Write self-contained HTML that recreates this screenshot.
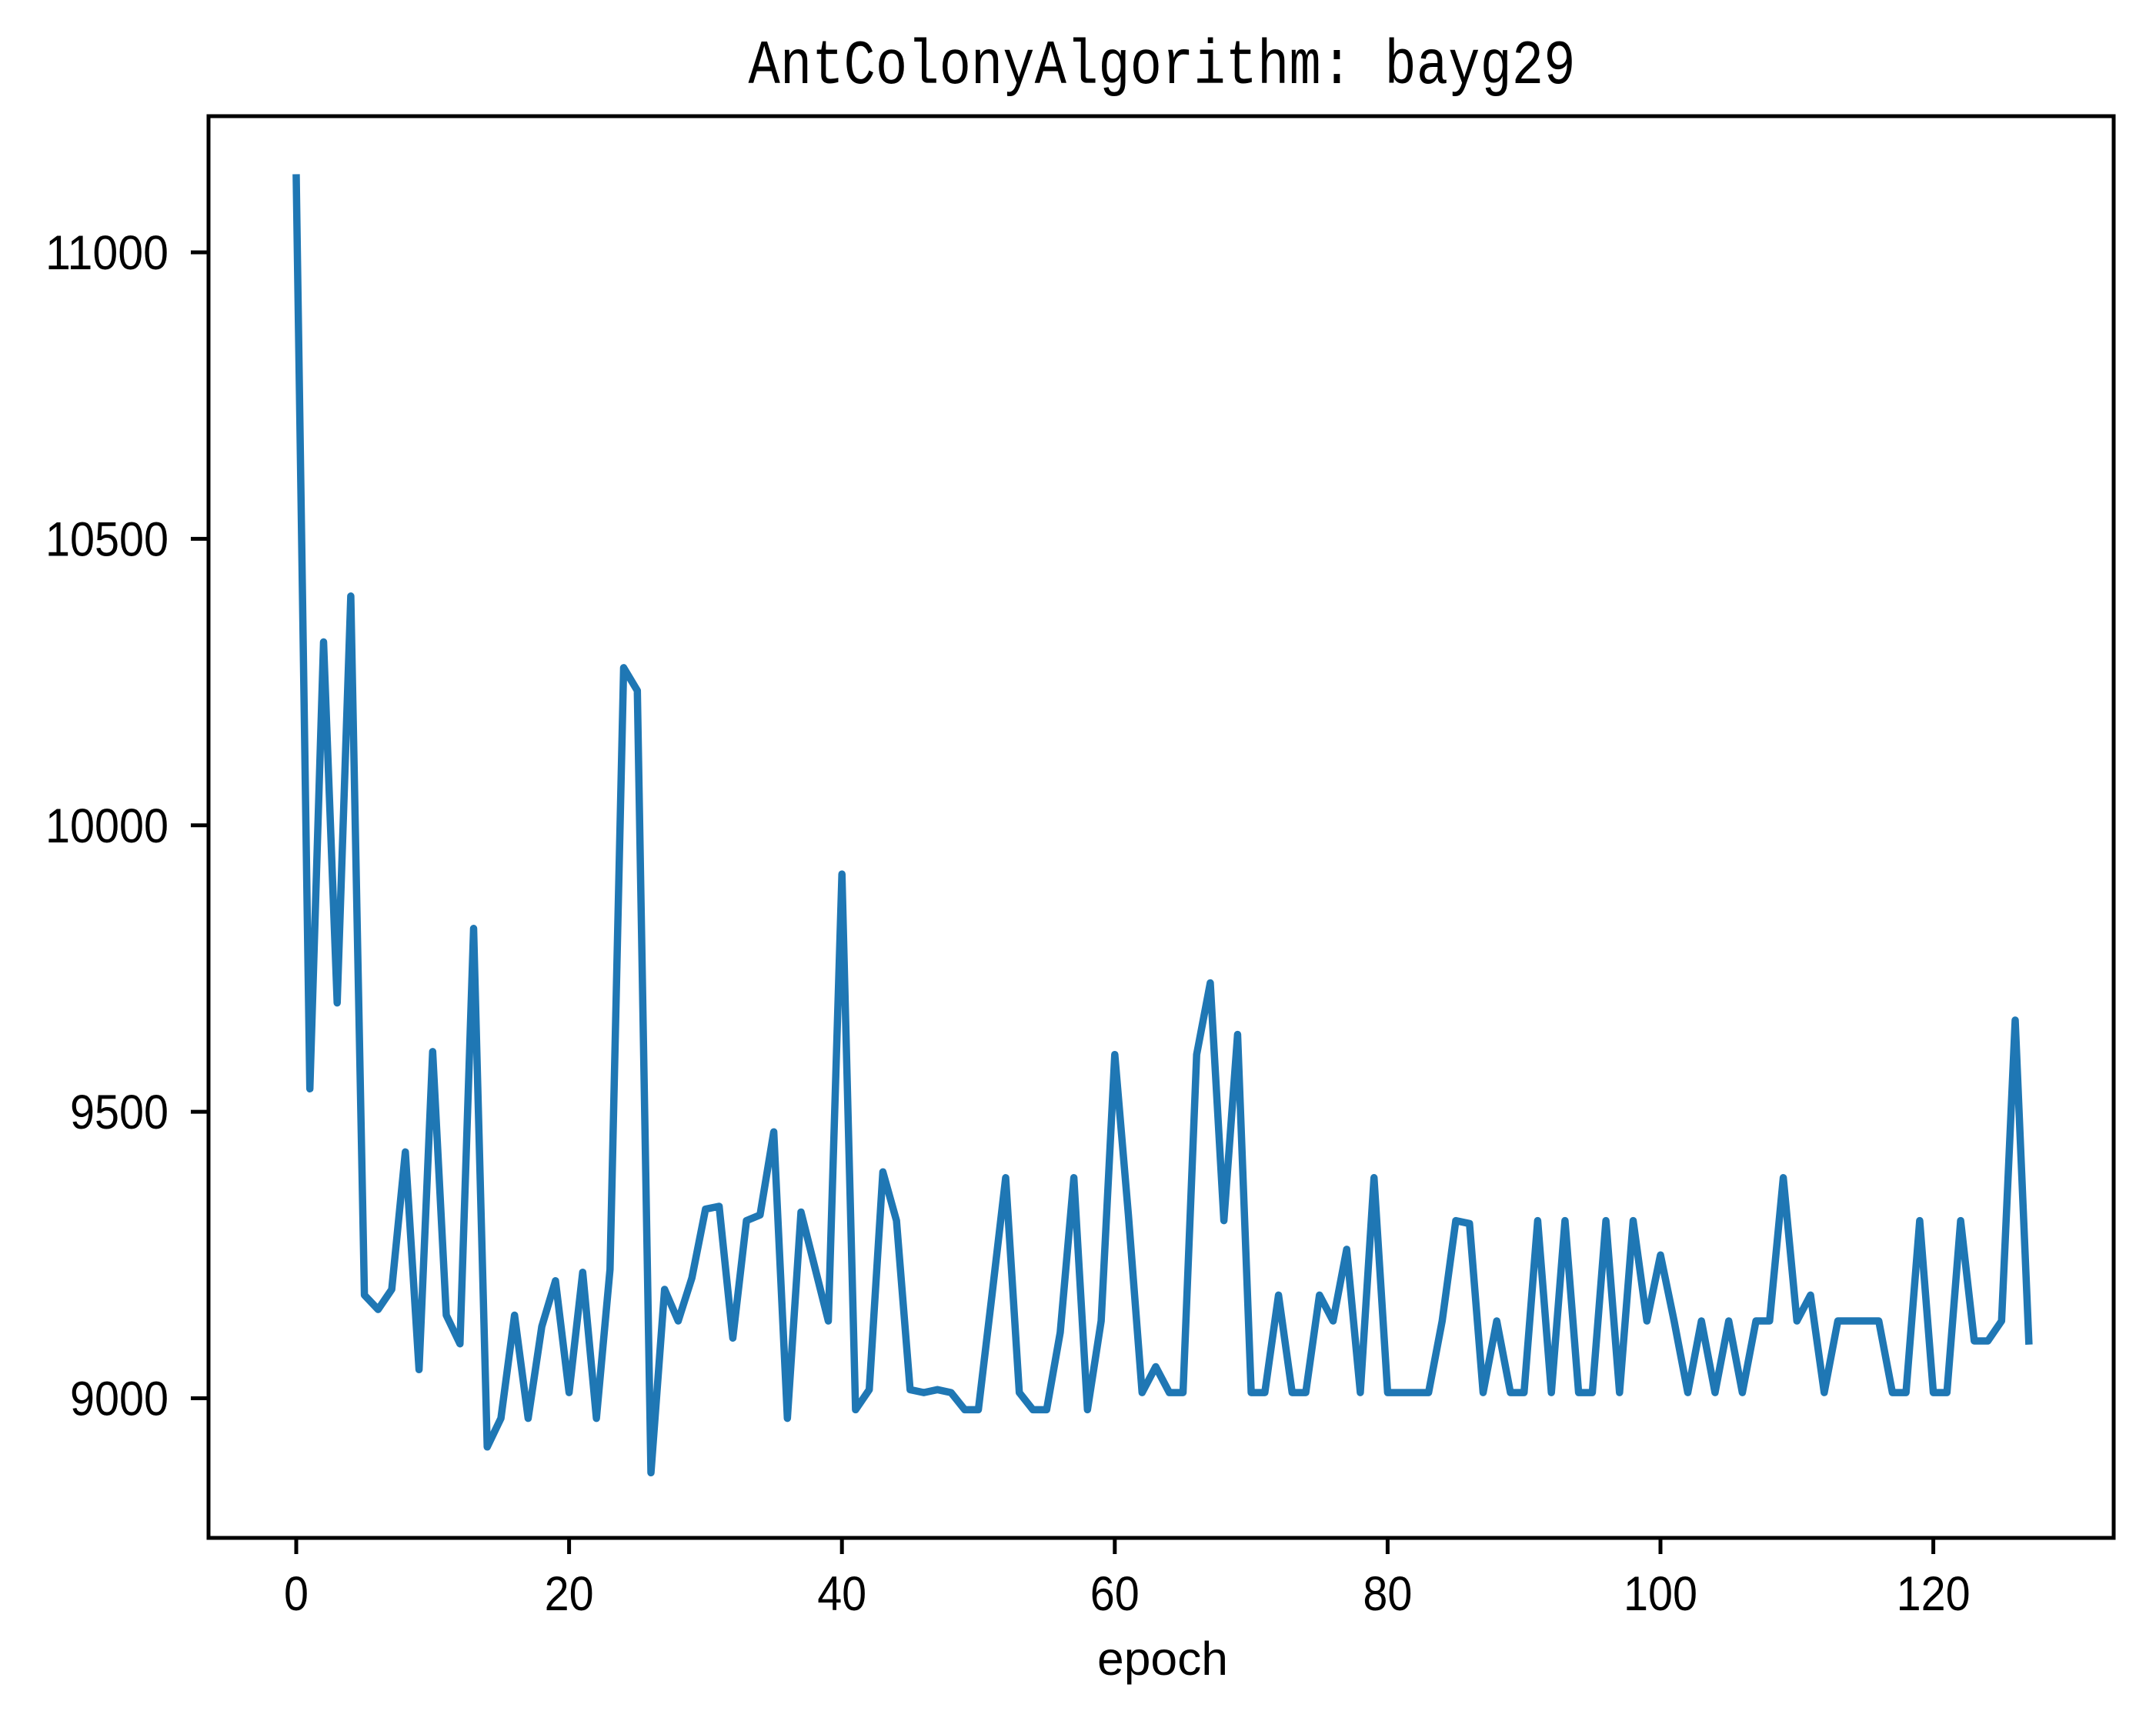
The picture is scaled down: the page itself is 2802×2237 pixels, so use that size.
<!DOCTYPE html>
<html><head><meta charset="utf-8"><style>html,body{margin:0;padding:0;background:#fff}svg{display:block}</style></head>
<body>
<svg id="chart" width="2802" height="2237" viewBox="0 0 2802 2237" xmlns="http://www.w3.org/2000/svg">
<rect width="2802" height="2237" fill="#fff"/>
<g id="plot"></g>
<text x="1510" y="108" text-anchor="middle" font-family="Liberation Mono, monospace" font-size="82" textLength="1075" lengthAdjust="spacingAndGlyphs">AntColonyAlgorithm: bayg29</text>
<text x="1511" y="2177" text-anchor="middle" font-family="Liberation Sans, sans-serif" font-size="61" textLength="170" lengthAdjust="spacingAndGlyphs">epoch</text>
</svg>
<script>
const epochs = [];
const costs = [11130,9540,10320,9690,10400,9180,9155,9190,9430,9050,9605,9145,9095,9820,8915,8965,9145,8965,9125,9205,9010,9220,8965,9225,10275,10235,8870,9190,9135,9210,9330,9335,9105,9310,9320,9465,8965,9325,9230,9135,9915,8980,9015,9395,9310,9015,9010,9015,9010,8980,8980,9180,9385,9010,8980,8980,9115,9385,8980,9135,9600,9320,9010,9055,9010,9010,9600,9725,9310,9635,9010,9010,9180,9010,9010,9180,9135,9260,9010,9385,9010,9010,9010,9010,9135,9310,9305,9010,9135,9010,9010,9310,9010,9310,9010,9010,9310,9010,9310,9135,9250,9135,9010,9135,9010,9135,9010,9135,9135,9385,9135,9180,9010,9135,9135,9135,9135,9010,9010,9310,9010,9010,9310,9100,9100,9135,9660,9100];
for (let i = 0; i < costs.length; i++) epochs.push(i);
const xTicks = [0,20,40,60,80,100,120];
const yTicks = [9000,9500,10000,10500,11000];

const L = 271, R = 2747, T = 151, B = 1999;
function xs(v){ return 385 + v * 17.73; }
function ys(v){ return 1817.5 - (v - 9000) * 0.74475; }
const NS = 'http://www.w3.org/2000/svg';
const g = document.getElementById('plot');
function mk(tag, attrs){ const e = document.createElementNS(NS, tag); for (const k in attrs) e.setAttribute(k, attrs[k]); g.appendChild(e); return e; }

let d = '';
for (let i = 0; i < costs.length; i++) d += (i ? 'L' : 'M') + xs(epochs[i]).toFixed(1) + ',' + ys(costs[i]).toFixed(1);
const line = mk('path', {d: d, fill: 'none', stroke: '#1f77b4', 'stroke-width': 9.5, 'stroke-linejoin': 'round', 'stroke-linecap': 'square'});



const frame = mk('rect', {x: L, y: T, width: R - L, height: B - T, fill: 'none', stroke: '#000', 'stroke-width': 5});



xTicks.forEach(v => {
  const x = xs(v);
  const t = mk('line', {x1: x, x2: x, y1: B, y2: B + 21, stroke: '#000', 'stroke-width': 5});
  
  
  const s = String(v);
  const lb = mk('text', {x: x, y: 2093, 'text-anchor': 'middle', 'font-family': 'Liberation Sans, sans-serif', 'font-size': 63, textLength: 32 * s.length, lengthAdjust: 'spacingAndGlyphs'});
  lb.textContent = s;
  
  
});
yTicks.forEach(v => {
  const y = ys(v);
  const t = mk('line', {x1: L - 23, x2: L, y1: y, y2: y, stroke: '#000', 'stroke-width': 5});
  
  
  const s = String(v);
  const lb = mk('text', {x: 219, y: y + 22, 'text-anchor': 'end', 'font-family': 'Liberation Sans, sans-serif', 'font-size': 63, textLength: 32 * s.length, lengthAdjust: 'spacingAndGlyphs'});
  lb.textContent = s;
  
  
});
</script>
</body></html>
